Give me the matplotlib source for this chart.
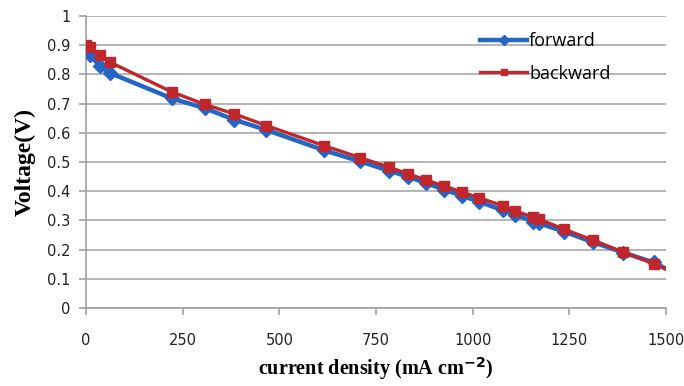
import numpy as np
import matplotlib.pyplot as plt

# current density (mA cm-2)
current = [0, 10, 35, 62, 222, 308, 383, 466, 616, 709, 784, 832, 880, 926,
           972, 1016, 1078, 1110, 1157, 1172, 1236, 1312, 1390, 1468, 1530]
forward = [0.88, 0.866, 0.83, 0.805, 0.718, 0.684, 0.645, 0.61, 0.54, 0.502,
           0.47, 0.45, 0.428, 0.405, 0.385, 0.364, 0.335, 0.32, 0.296, 0.29,
           0.262, 0.225, 0.19, 0.156, 0.115]
backward = [0.90, 0.895, 0.865, 0.842, 0.74, 0.697, 0.665, 0.625, 0.556, 0.515,
            0.482, 0.46, 0.438, 0.418, 0.397, 0.378, 0.35, 0.332, 0.311, 0.304,
            0.27, 0.232, 0.191, 0.152, 0.115]

xticks = [0, 250, 500, 750, 1000, 1250, 1500]
yticks = np.round(np.arange(0, 1.01, 0.1), 1)
ytick_labels = ['0' if v == 0 else ('1' if v == 1 else f'{v:.1f}') for v in yticks]

fig = plt.figure(figsize=(6.84, 3.86), dpi=100)
ax = fig.add_axes([0.1257, 0.202, 0.848, 0.7565])

ax.plot(current, forward, color='#2466c4', lw=3.2, marker='D', ms=7,
        label='forward', zorder=3)
ax.plot(current, backward, color='#c0262c', lw=2.4, marker='s', ms=7,
        label='backward', zorder=4)

ax.set_xlim(0, 1500)
ax.set_ylim(0, 1)
ax.set_xticks(xticks)
ax.set_yticks(yticks)
ax.set_yticklabels(ytick_labels)
ax.grid(axis='y', color='#a8a8a8', lw=1.2)
ax.set_axisbelow(True)

for s in ['top', 'right']:
    ax.spines[s].set_visible(False)
for s in ['left', 'bottom']:
    ax.spines[s].set_color('#a0a0a0')
    ax.spines[s].set_linewidth(1.2)
ax.tick_params(axis='x', direction='out', length=5, width=1.2, color='#a0a0a0',
               labelsize=10.5, pad=13, labelcolor='#222222')
ax.tick_params(axis='y', direction='out', length=5, width=1.2, color='#a0a0a0',
               labelsize=10.5, pad=6, labelcolor='#222222')
for lab in ax.get_xticklabels() + ax.get_yticklabels():
    lab.set_family('DejaVu Sans')

ax.set_xlabel(r'current density (mA cm$^{\mathbf{-2}}$)', family='Liberation Serif',
              fontweight='bold', fontsize=14.5, labelpad=5)
ax.set_ylabel('Voltage(V)', family='Liberation Serif', fontweight='bold',
              fontsize=17, labelpad=8)

leg = ax.legend(loc='upper left', bbox_to_anchor=(0.652, 1.0), frameon=False,
                handlelength=2.6, handletextpad=0.1, labelspacing=0.8,
                markerscale=0.7, prop={'family': 'Open Sans', 'size': 13})

fig.savefig('out.png', dpi=100)
